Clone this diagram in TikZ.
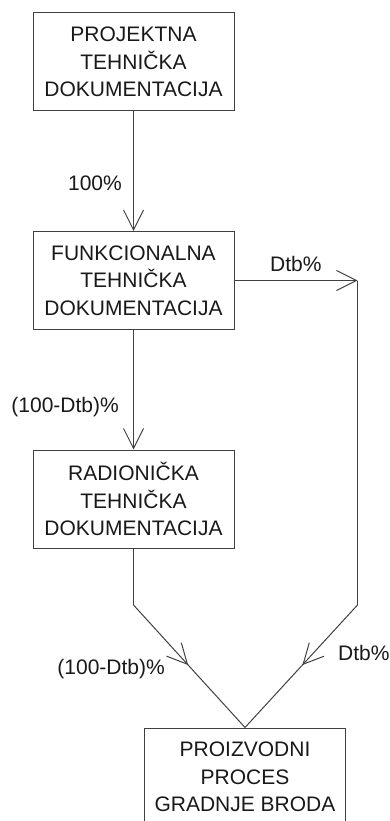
\documentclass[tikz,border=0pt]{standalone}
\usepackage{fontspec}
\setmainfont{Liberation Sans}
\usetikzlibrary{arrows.meta,decorations.markings}
\begin{document}
\begin{tikzpicture}[x=1pt, y=1pt, node distance={218.5pt},
  main/.style = {draw=black!75, line width=1pt, rectangle, minimum width=201pt, minimum height=98pt, align=center, inner sep=0pt, text=black!90, font=\fontsize{21}{27.5}\selectfont},
  lbl/.style = {inner sep=0pt, text=black!90, font=\fontsize{21}{25}\selectfont},
  tip/.style = {draw=black!75, line width=1pt, -{Straight Barb[length=20pt, width=20pt]}},
  line/.style = {draw=black!75, line width=1pt},
  midtip/.style = {line, postaction={decorate}, decoration={markings, mark=at position 0.49 with {\arrow{Straight Barb[length=20pt, width=20pt]}}}}]
\useasboundingbox (0,0) rectangle (389,-821);
\node[main] (1) at (133.5,-62) {PROJEKTNA\\TEHNIČKA\\DOKUMENTACIJA};
\node[main] (2) [below of=1] {FUNKCIONALNA\\TEHNIČKA\\DOKUMENTACIJA};
\node[main] (3) [below of=2] {RADIONIČKA\\TEHNIČKA\\DOKUMENTACIJA};
\node[main] (4) [below of=3, xshift=111.5pt, yshift=-59.5pt] {PROIZVODNI\\PROCES\\GRADNJE BRODA};

\coordinate (a) at ([xshift=123pt]2.east);
\coordinate (b) at (a |- 0,-605);
\coordinate (c) at (3.south |- b);

\draw[tip] (1) -- (2);
\draw[tip] (2) -- (3);
\draw[tip] (2) -- (a);
\draw[line] (a) -- (b);
\draw[line] (3) -- (c);
\draw[midtip] (c) -- (4.north);
\draw[midtip] (b) -- (4.north);

\node[lbl, anchor=east] (l1) at (122,-183) {100\%};
\node[lbl, anchor=west] (l2) at (270,-264) {Dtb\%};
\node[lbl, anchor=east] (l3) at (119,-407) {(100-Dtb)\%};
\node[lbl, anchor=east] (l4) at (165,-669) {(100-Dtb)\%};
\node[lbl, anchor=west] (l5) at (338,-653) {Dtb\%};
\end{tikzpicture}
\end{document}
